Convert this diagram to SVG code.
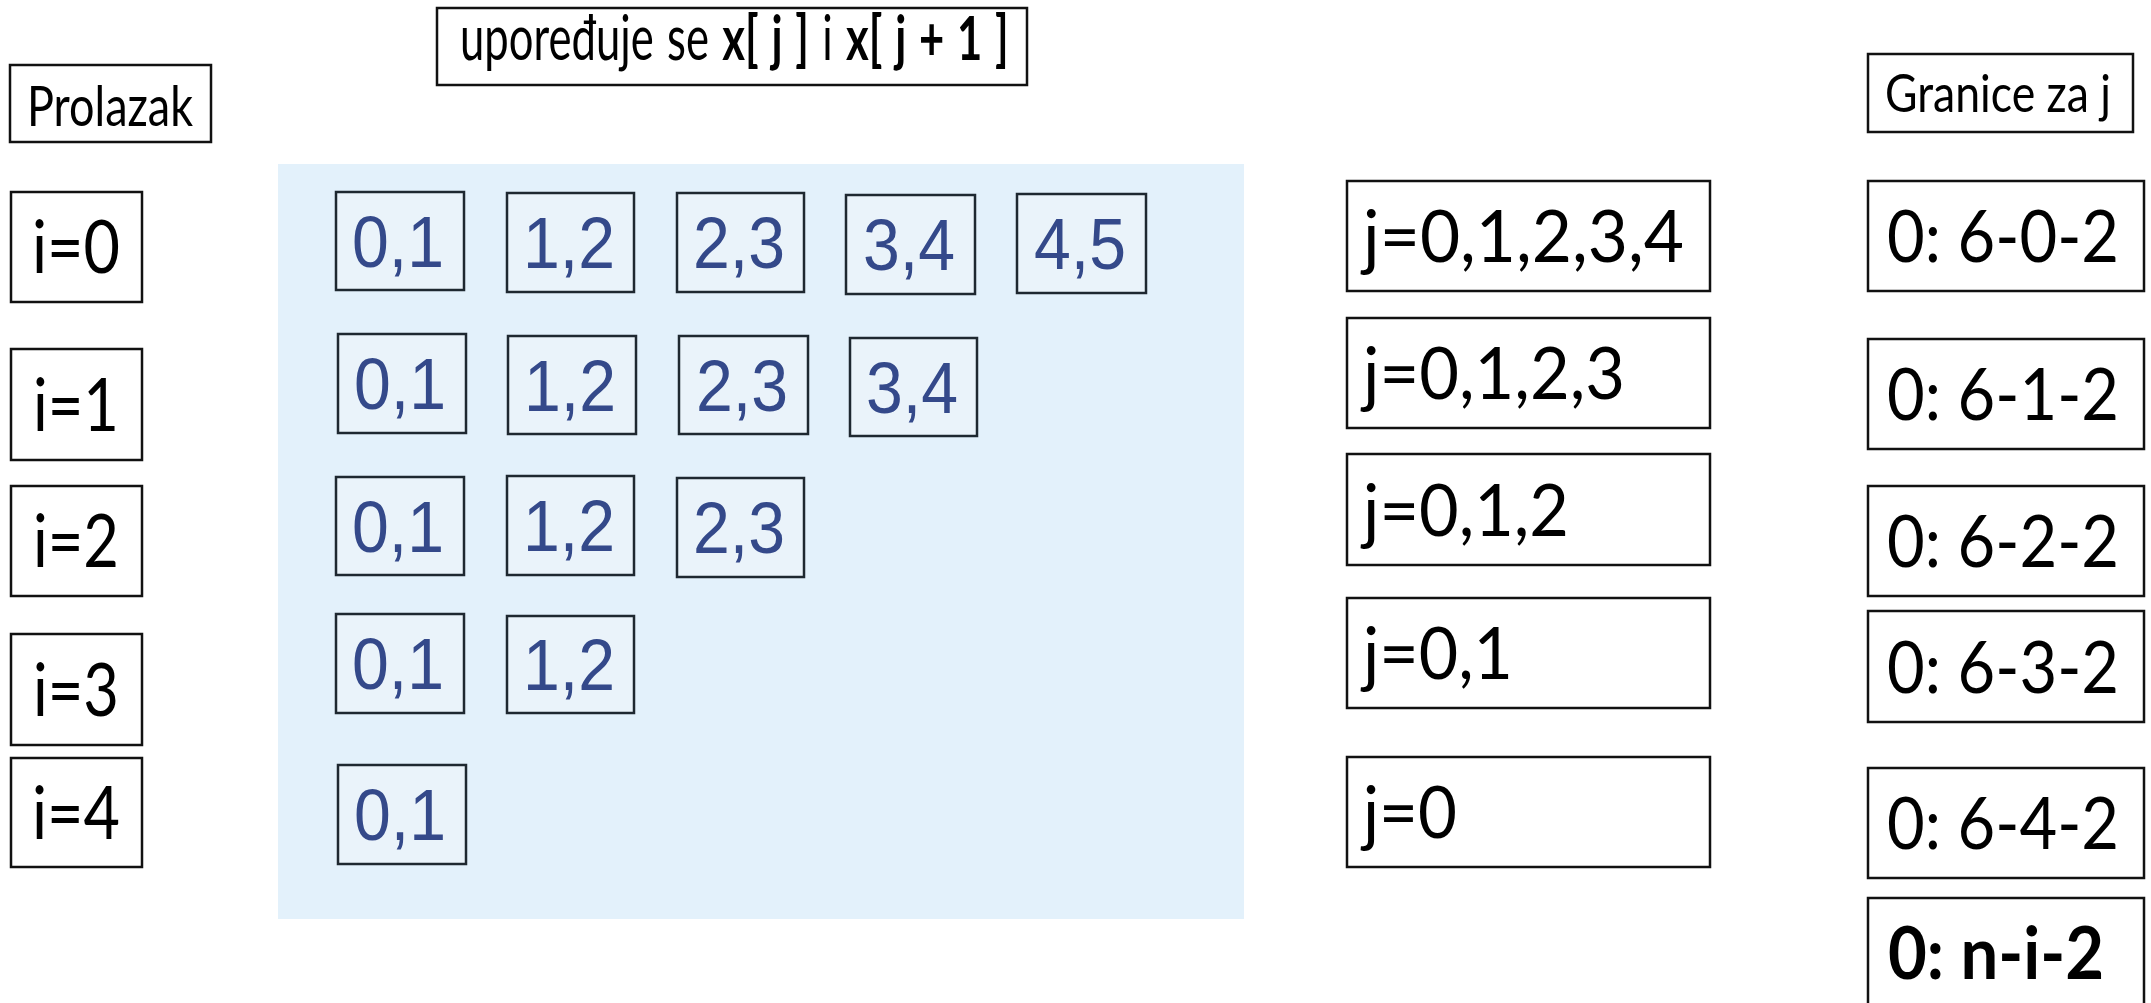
<svg xmlns="http://www.w3.org/2000/svg" width="2151" height="1003" viewBox="0 0 2151 1003">
<style>
.box{fill:#ffffff;stroke:#111111;stroke-width:2.5}
.cell{fill:#eaf3fa;stroke:#1e2830;stroke-width:2.5}
.lbl{font-family:Lato,"Open Sans","Liberation Sans",sans-serif;fill:#000000}
.big{font-size:72px}
.ii{font-size:74px;text-anchor:middle}
.num{font-family:"Liberation Sans",Arial,sans-serif;font-size:72px;fill:#34498a;text-anchor:middle}
</style>
<rect x="0" y="0" width="2151" height="1003" fill="#ffffff"/>
<g id="connectors"></g>
<g id="prolazak">
<rect class="box" x="10" y="65" width="201" height="77"/>
<text class="lbl" x="110" y="126" font-size="57" text-anchor="middle" textLength="166" lengthAdjust="spacingAndGlyphs">Prolazak</text>
</g>
<g id="title">
<rect class="box" x="437" y="8" width="590" height="77"/>
<text class="lbl" transform="translate(460,60) scale(0.715,1)" x="0" y="0" font-size="61" word-spacing="3">upoređuje se <tspan font-weight="bold">x[ j ]</tspan> i <tspan font-weight="bold">x[ j + 1 ]</tspan></text>
</g>
<g id="granice">
<rect class="box" x="1868" y="54" width="265" height="78"/>
<text class="lbl" x="1885" y="112" font-size="53" textLength="226" lengthAdjust="spacingAndGlyphs">Granice za j</text>
</g>
<g id="i0"><rect class="box" x="11" y="192" width="131" height="110"/><text class="lbl ii" x="76" y="273" textLength="88" lengthAdjust="spacingAndGlyphs">i=0</text></g>
<g id="i1"><rect class="box" x="11" y="349" width="131" height="111"/><text class="lbl ii" x="76" y="431" textLength="86" lengthAdjust="spacingAndGlyphs">i=1</text></g>
<g id="i2"><rect class="box" x="11" y="486" width="131" height="110"/><text class="lbl ii" x="76" y="567" textLength="86" lengthAdjust="spacingAndGlyphs">i=2</text></g>
<g id="i3"><rect class="box" x="11" y="634" width="131" height="111"/><text class="lbl ii" x="76" y="716" textLength="86" lengthAdjust="spacingAndGlyphs">i=3</text></g>
<g id="i4"><rect class="box" x="11" y="758" width="131" height="109"/><text class="lbl ii" x="76" y="839" textLength="88" lengthAdjust="spacingAndGlyphs">i=4</text></g>
<g id="panel">
<rect x="278" y="164" width="966" height="755" fill="#e3f1fb"/>
</g>
<g id="r0c0"><rect class="cell" x="336" y="192" width="128" height="98"/><text class="num" x="398" y="267" textLength="92" lengthAdjust="spacingAndGlyphs">0,1</text></g>
<g id="r0c1"><rect class="cell" x="507" y="193" width="127" height="99"/><text class="num" x="569" y="268" textLength="92" lengthAdjust="spacingAndGlyphs">1,2</text></g>
<g id="r0c2"><rect class="cell" x="677" y="193" width="127" height="99"/><text class="num" x="739" y="268" textLength="92" lengthAdjust="spacingAndGlyphs">2,3</text></g>
<g id="r0c3"><rect class="cell" x="846" y="195" width="129" height="99"/><text class="num" x="909" y="270" textLength="92" lengthAdjust="spacingAndGlyphs">3,4</text></g>
<g id="r0c4"><rect class="cell" x="1017" y="194" width="129" height="99"/><text class="num" x="1080" y="269" textLength="92" lengthAdjust="spacingAndGlyphs">4,5</text></g>
<g id="r1c0"><rect class="cell" x="338" y="334" width="128" height="99"/><text class="num" x="400" y="409" textLength="92" lengthAdjust="spacingAndGlyphs">0,1</text></g>
<g id="r1c1"><rect class="cell" x="508" y="336" width="128" height="98"/><text class="num" x="570" y="411" textLength="92" lengthAdjust="spacingAndGlyphs">1,2</text></g>
<g id="r1c2"><rect class="cell" x="679" y="336" width="129" height="98"/><text class="num" x="742" y="411" textLength="92" lengthAdjust="spacingAndGlyphs">2,3</text></g>
<g id="r1c3"><rect class="cell" x="850" y="338" width="127" height="98"/><text class="num" x="912" y="413" textLength="92" lengthAdjust="spacingAndGlyphs">3,4</text></g>
<g id="r2c0"><rect class="cell" x="336" y="477" width="128" height="98"/><text class="num" x="398" y="552" textLength="92" lengthAdjust="spacingAndGlyphs">0,1</text></g>
<g id="r2c1"><rect class="cell" x="507" y="476" width="127" height="99"/><text class="num" x="569" y="551" textLength="92" lengthAdjust="spacingAndGlyphs">1,2</text></g>
<g id="r2c2"><rect class="cell" x="677" y="478" width="127" height="99"/><text class="num" x="739" y="553" textLength="92" lengthAdjust="spacingAndGlyphs">2,3</text></g>
<g id="r3c0"><rect class="cell" x="336" y="614" width="128" height="99"/><text class="num" x="398" y="689" textLength="92" lengthAdjust="spacingAndGlyphs">0,1</text></g>
<g id="r3c1"><rect class="cell" x="507" y="616" width="127" height="97"/><text class="num" x="569" y="690" textLength="92" lengthAdjust="spacingAndGlyphs">1,2</text></g>
<g id="r4c0"><rect class="cell" x="338" y="765" width="128" height="99"/><text class="num" x="400" y="840" textLength="92" lengthAdjust="spacingAndGlyphs">0,1</text></g>
<g id="j0"><rect class="box" x="1347" y="181" width="363" height="110"/><text class="lbl big" x="1363" y="262" textLength="321" lengthAdjust="spacingAndGlyphs">j=0,1,2,3,4</text></g>
<g id="j1"><rect class="box" x="1347" y="318" width="363" height="110"/><text class="lbl big" x="1363" y="399" textLength="262" lengthAdjust="spacingAndGlyphs">j=0,1,2,3</text></g>
<g id="j2"><rect class="box" x="1347" y="454" width="363" height="111"/><text class="lbl big" x="1363" y="536" textLength="206" lengthAdjust="spacingAndGlyphs">j=0,1,2</text></g>
<g id="j3"><rect class="box" x="1347" y="598" width="363" height="110"/><text class="lbl big" x="1363" y="679" textLength="150" lengthAdjust="spacingAndGlyphs">j=0,1</text></g>
<g id="j4"><rect class="box" x="1347" y="757" width="363" height="110"/><text class="lbl big" x="1363" y="838" textLength="94" lengthAdjust="spacingAndGlyphs">j=0</text></g>
<g id="g0"><rect class="box" x="1868" y="181" width="276" height="110"/><text class="lbl big" x="1887" y="262" textLength="232" lengthAdjust="spacingAndGlyphs">0: 6-0-2</text></g>
<g id="g1"><rect class="box" x="1868" y="339" width="276" height="110"/><text class="lbl big" x="1887" y="420" textLength="232" lengthAdjust="spacingAndGlyphs">0: 6-1-2</text></g>
<g id="g2"><rect class="box" x="1868" y="486" width="276" height="110"/><text class="lbl big" x="1887" y="567" textLength="232" lengthAdjust="spacingAndGlyphs">0: 6-2-2</text></g>
<g id="g3"><rect class="box" x="1868" y="611" width="276" height="111"/><text class="lbl big" x="1887" y="693" textLength="232" lengthAdjust="spacingAndGlyphs">0: 6-3-2</text></g>
<g id="g4"><rect class="box" x="1868" y="768" width="276" height="110"/><text class="lbl big" x="1887" y="849" textLength="232" lengthAdjust="spacingAndGlyphs">0: 6-4-2</text></g>
<g id="g5"><rect class="box" x="1868" y="898" width="276" height="115"/><text class="lbl big" x="1888" y="979" font-weight="bold" textLength="216" lengthAdjust="spacingAndGlyphs">0: n-i-2</text></g>
</svg>
